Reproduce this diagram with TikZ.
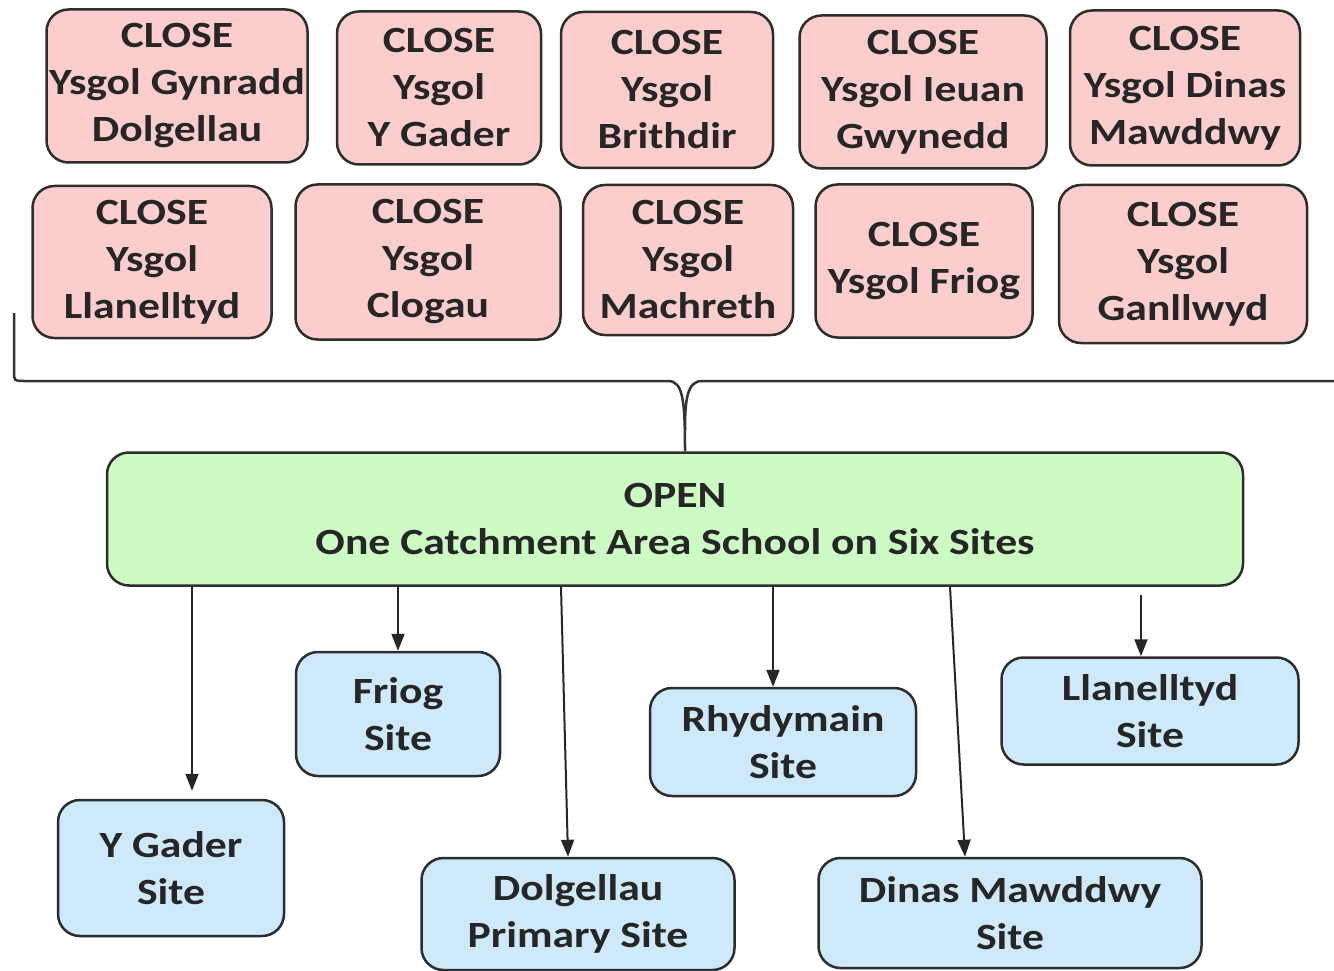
\documentclass[tikz,border=0pt]{standalone}
\usepackage{fontspec}
\setmainfont{Carlito}[FakeStretch=1.18]
\usetikzlibrary{arrows.meta,calc}
\definecolor{closepink}{RGB}{252,205,205}
\definecolor{opengreen}{RGB}{204,252,196}
\definecolor{siteblue}{RGB}{206,233,250}
\definecolor{boxline}{RGB}{45,45,45}

\begin{document}
\begin{tikzpicture}[x=1pt,y=-1pt,
box/.style={rectangle,rounded corners=22pt,draw=boxline,line width=2.5pt,align=center,inner sep=0pt,text=black!85,font=\fontsize{37}{47}\selectfont\bfseries},
shut/.style={box,fill=closepink},
site/.style={box,fill=siteblue},
arr/.style={-{Triangle[length=17pt,width=13pt]},line width=2pt,draw=black!85},
brace/.style={line width=2.5pt,draw=black!80}]
	\useasboundingbox (0,0) rectangle (1334,971);
	%schools to close, first row
	\node[shut,minimum width=261pt,minimum height=153pt] at (177,86) (s1) {CLOSE\\Ysgol Gynradd\\Dolgellau};
	\node[shut,minimum width=204pt,minimum height=153pt] at (439,88) (s2) {CLOSE\\Ysgol\\Y Gader};
	\node[shut,minimum width=212pt,minimum height=156pt] at (667,90) (s3) {CLOSE\\Ysgol\\Brithdir};
	\node[shut,minimum width=247pt,minimum height=153pt] at (923,92) (s4) {CLOSE\\Ysgol Ieuan\\Gwynedd};
	\node[shut,minimum width=230pt,minimum height=155pt] at (1185,88) (s5) {CLOSE\\Ysgol Dinas\\Mawddwy};
	%schools to close, second row
	\node[shut,minimum width=239pt,minimum height=152pt] at (152,262) (s6) {CLOSE\\Ysgol\\Llanelltyd};
	\node[shut,minimum width=265pt,minimum height=155pt] at (428,262) (s7) {CLOSE\\Ysgol\\Clogau};
	\node[shut,minimum width=210pt,minimum height=150pt] at (688,260) (s8) {CLOSE\\Ysgol\\Machreth};
	\node[shut,minimum width=217pt,minimum height=153pt] at (924,261) (s9) {CLOSE\\Ysgol Friog};
	\node[shut,minimum width=248pt,minimum height=158pt] at (1183,264) (s10) {CLOSE\\Ysgol\\Ganllwyd};
	%new school
	\node[box,fill=opengreen,minimum width=1136pt,minimum height=133pt] at (675,519) (open) {OPEN\\One Catchment Area School on Six Sites};
	%brace
	\coordinate (bl) at (14,313);
	\coordinate (tip) at (685,400);
	\draw[brace] (bl) -- (14,371) .. controls (14,381) .. (24,381) -- (668,381) .. controls (683,381) and (tip) .. (open.north -| tip);
	\draw[brace] (1334,381) -- (702,381) .. controls (687,381) and (tip) .. ($(tip)+(0,30)$);
	%sites
	\node[site,minimum width=204pt,minimum height=124pt] at (398,714) (friog) {Friog\\Site};
	\node[site,minimum width=266pt,minimum height=108pt] at (783,742) (rhyd) {Rhydymain\\Site};
	\node[site,minimum width=297pt,minimum height=107pt] at (1150,711) (llan) {Llanelltyd\\Site};
	\node[site,minimum width=226pt,minimum height=136pt] at (171,868) (gader) {Y Gader\\Site};
	\node[site,minimum width=313pt,minimum height=112pt] at (578,914) (dolg) {Dolgellau\\Primary Site};
	\node[site,minimum width=383pt,minimum height=110pt] at (1010,913) (dinas) {Dinas Mawddwy\\Site};
	%arrows
	\coordinate (a1) at (192,0);
	\coordinate (a2) at (398,0);
	\coordinate (a3) at (561,0);
	\coordinate (a3e) at (568,0);
	\coordinate (a4) at (773,0);
	\coordinate (a5) at (950,0);
	\coordinate (a5e) at (965,0);
	\coordinate (a6) at (1141,0);
	\draw[arr] (open.south -| a1) -- ([yshift=8pt]gader.north -| a1);
	\draw[arr] (open.south -| a2) -- (friog.north -| a2);
	\draw[arr] (open.south -| a3) -- (dolg.north -| a3e);
	\draw[arr] (open.south -| a4) -- (rhyd.north -| a4);
	\draw[arr] (open.south -| a5) -- (dinas.north -| a5e);
	\draw[arr] ([yshift=-8pt]open.south -| a6) -- (llan.north -| a6);
\end{tikzpicture}
\end{document}
